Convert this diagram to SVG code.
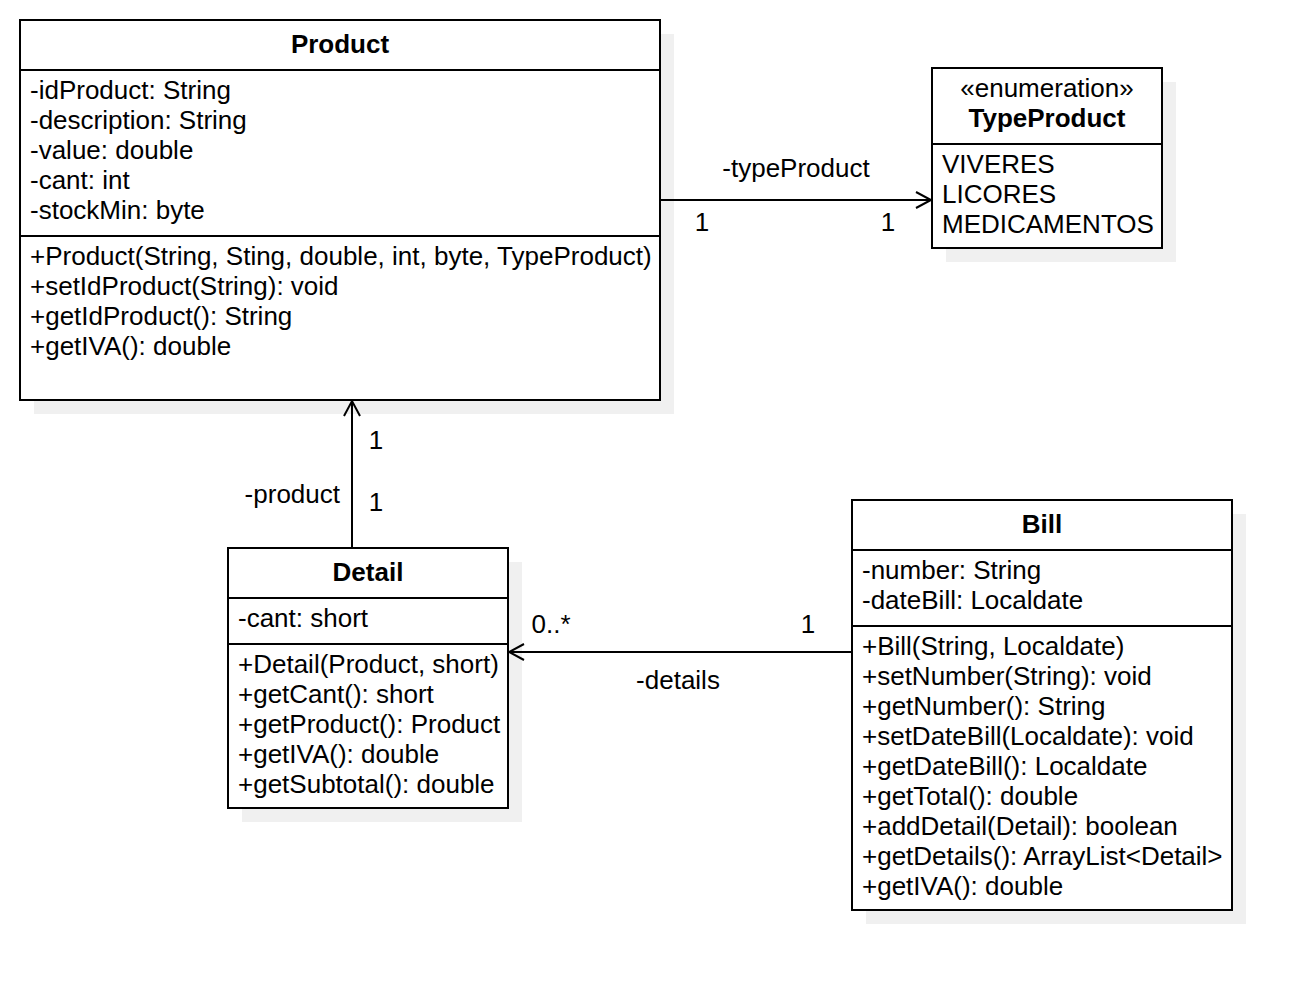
<svg xmlns="http://www.w3.org/2000/svg" width="1310" height="990" viewBox="0 0 1310 990">
<style>
text{font-family:"Liberation Sans",Arial,sans-serif;font-size:26px;fill:#000}
.b{font-weight:bold}
.c{text-anchor:middle}
.r{text-anchor:end}
.box{fill:#fff;stroke:#000;stroke-width:2}
.sh{fill:#f0f0f0;stroke:none}
.ln{stroke:#000;stroke-width:2;fill:none}
</style>
<defs>
<marker id="arr" markerUnits="userSpaceOnUse" markerWidth="20" markerHeight="20" refX="15" refY="8" orient="auto" overflow="visible">
<path d="M0,0 L15,8 L0,16" fill="none" stroke="#000" stroke-width="2"/>
</marker>
</defs>
<rect width="1310" height="990" fill="#fff"/>
<g id="Product">
<rect class="sh" x="34" y="34" width="640" height="380"/>
<rect class="box" x="20" y="20" width="640" height="380"/>
<line class="ln" x1="20" y1="70" x2="660" y2="70"/>
<line class="ln" x1="20" y1="236" x2="660" y2="236"/>
<text class="b c" x="340" y="53">Product</text>
<text x="30" y="99">-idProduct: String</text>
<text x="30" y="129">-description: String</text>
<text x="30" y="159">-value: double</text>
<text x="30" y="189">-cant: int</text>
<text x="30" y="219">-stockMin: byte</text>
<text x="30" y="265">+Product(String, Sting, double, int, byte, TypeProduct)</text>
<text x="30" y="295">+setIdProduct(String): void</text>
<text x="30" y="325">+getIdProduct(): String</text>
<text x="30" y="355">+getIVA(): double</text>
</g>
<g id="TypeProduct">
<rect class="sh" x="946" y="82" width="230" height="180"/>
<rect class="box" x="932" y="68" width="230" height="180"/>
<line class="ln" x1="932" y1="144" x2="1162" y2="144"/>
<text class="c" x="1047" y="97">«enumeration»</text>
<text class="b c" x="1047" y="127">TypeProduct</text>
<text x="942" y="173">VIVERES</text>
<text x="942" y="203">LICORES</text>
<text x="942" y="233">MEDICAMENTOS</text>
</g>
<g id="Detail">
<rect class="sh" x="242" y="562" width="280" height="260"/>
<rect class="box" x="228" y="548" width="280" height="260"/>
<line class="ln" x1="228" y1="598" x2="508" y2="598"/>
<line class="ln" x1="228" y1="644" x2="508" y2="644"/>
<text class="b c" x="368" y="581">Detail</text>
<text x="238" y="627">-cant: short</text>
<text x="238" y="673">+Detail(Product, short)</text>
<text x="238" y="703">+getCant(): short</text>
<text x="238" y="733">+getProduct(): Product</text>
<text x="238" y="763">+getIVA(): double</text>
<text x="238" y="793">+getSubtotal(): double</text>
</g>
<g id="Bill">
<rect class="sh" x="866" y="514" width="380" height="410"/>
<rect class="box" x="852" y="500" width="380" height="410"/>
<line class="ln" x1="852" y1="550" x2="1232" y2="550"/>
<line class="ln" x1="852" y1="626" x2="1232" y2="626"/>
<text class="b c" x="1042" y="533">Bill</text>
<text x="862" y="579">-number: String</text>
<text x="862" y="609">-dateBill: Localdate</text>
<text x="862" y="655">+Bill(String, Localdate)</text>
<text x="862" y="685">+setNumber(String): void</text>
<text x="862" y="715">+getNumber(): String</text>
<text x="862" y="745">+setDateBill(Localdate): void</text>
<text x="862" y="775">+getDateBill(): Localdate</text>
<text x="862" y="805">+getTotal(): double</text>
<text x="862" y="835">+addDetail(Detail): boolean</text>
<text x="862" y="865">+getDetails(): ArrayList&lt;Detail&gt;</text>
<text x="862" y="895">+getIVA(): double</text>
</g>
<g id="connectors">
<line class="ln" x1="660" y1="200" x2="931" y2="200" marker-end="url(#arr)"/>
<text class="c" x="796" y="177">-typeProduct</text>
<text class="c" x="702" y="231">1</text>
<text class="c" x="888" y="231">1</text>
<line class="ln" x1="352" y1="548" x2="352" y2="401" marker-end="url(#arr)"/>
<text class="c" x="376" y="449">1</text>
<text class="r" x="340" y="503">-product</text>
<text class="c" x="376" y="511">1</text>
<line class="ln" x1="852" y1="652" x2="509" y2="652" marker-end="url(#arr)"/>
<text class="c" x="551" y="633">0..*</text>
<text class="c" x="808" y="633">1</text>
<text class="c" x="678" y="689">-details</text>
</g>
</svg>
